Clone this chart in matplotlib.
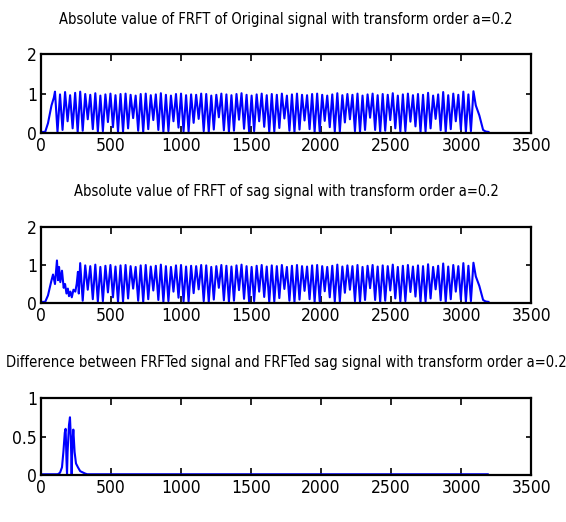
import matplotlib
matplotlib.use("Agg")
import matplotlib.pyplot as plt
import numpy as np

plt.rcParams['font.family'] = ['DejaVu Sans']
plt.rcParams['font.stretch'] = 'condensed'
plt.rcParams['path.simplify'] = False

# turning points of the dense oscillation (shared by both signals)
period = 36
first_peak = 100
peaks = [1.05, 0.98, 1.04, 0.96, 1.02, 1.05, 0.99, 0.97, 1.01, 0.95,
         0.98, 1.0, 0.96, 0.99, 1.0, 0.97, 0.95, 0.99, 1.0, 0.96,
         0.98, 1.01, 0.97, 0.95, 0.99, 1.0, 0.96, 0.98, 0.97, 1.0,
         0.99, 0.95, 0.97, 1.0, 0.98, 0.96, 0.99, 1.01, 0.97, 0.95,
         0.98, 1.0, 0.96, 0.99, 0.97, 1.0, 0.95, 0.98, 1.0, 0.97,
         0.96, 0.99, 1.0, 0.97, 0.95, 0.98, 1.01, 0.96, 0.99, 0.97,
         1.0, 0.95, 0.98, 1.0, 0.96, 0.99, 0.97, 1.01, 0.95, 0.98,
         1.0, 0.96, 0.99, 0.97, 1.02, 0.95, 0.98, 1.04, 0.96, 1.0,
         0.97, 1.05, 0.98, 1.06]
troughs = [0.03, 0.08, 0.3, 0.12, 0.03, 0.06, 0.35, 0.1, 0.04, 0.05,
           0.28, 0.15, 0.03, 0.04, 0.12, 0.38, 0.06, 0.03, 0.1, 0.33,
           0.08, 0.03, 0.05, 0.3, 0.14, 0.04, 0.04, 0.26, 0.36, 0.05,
           0.03, 0.09, 0.4, 0.07, 0.03, 0.06, 0.34, 0.11, 0.04, 0.05,
           0.3, 0.16, 0.03, 0.04, 0.13, 0.37, 0.06, 0.03, 0.09, 0.32,
           0.1, 0.03, 0.05, 0.31, 0.15, 0.04, 0.04, 0.27, 0.35, 0.05,
           0.03, 0.08, 0.39, 0.08, 0.03, 0.06, 0.33, 0.12, 0.04, 0.05,
           0.29, 0.17, 0.03, 0.04, 0.12, 0.36, 0.07, 0.03, 0.1, 0.3,
           0.09, 0.03, 0.05]

orig_head_x = [0, 30, 50, 75, 92]
orig_head_y = [0.03, 0.03, 0.25, 0.7, 0.9]
tail_x = [3105, 3130, 3157, 3175, 3195]
tail_y = [0.7, 0.45, 0.08, 0.04, 0.03]

# sag signal differs at the start, then joins the original at peak 5
sag_head_x = [0, 30, 50, 72, 86, 100, 114, 122, 129, 138, 150, 162, 172,
              182, 192, 200, 210, 220, 232, 245, 255, 264, 270]
sag_head_y = [0.03, 0.03, 0.2, 0.55, 0.75, 0.5, 1.12, 0.6, 0.95, 0.55,
              0.85, 0.4, 0.5, 0.25, 0.38, 0.18, 0.3, 0.15, 0.35, 0.3,
              0.5, 0.82, 0.25]
sag_join = 5

diff_x = [0, 120, 136, 150, 160, 170, 176, 182, 186, 190, 200, 207, 213,
          219, 224, 231, 240, 250, 264, 280, 314, 330, 3190]
diff_y = [0.01, 0.01, 0.03, 0.1, 0.3, 0.55, 0.6, 0.2, 0.01, 0.3, 0.65,
          0.75, 0.5, 0.01, 0.4, 0.59, 0.3, 0.15, 0.1, 0.05, 0.02, 0.01, 0.01]

titles = ['Absolute value of FRFT of Original signal with transform order a=0.2',
          'Absolute value of FRFT of sag signal with transform order a=0.2',
          'Difference between FRFTed signal and FRFTed sag signal with transform order a=0.2']


def zigzag(start):
    xs, ys = [], []
    for k in range(start, len(peaks)):
        xs.append(first_peak + period * k)
        ys.append(peaks[k])
        if k < len(troughs):
            xs.append(first_peak + period * k + period / 2)
            ys.append(troughs[k])
    return xs, ys


zx, zy = zigzag(0)
orig_x = orig_head_x + zx + tail_x
orig_y = orig_head_y + zy + tail_y
sx, sy = zigzag(sag_join)
sag_x = sag_head_x + sx + tail_x
sag_y = sag_head_y + sy + tail_y

fig = plt.figure(figsize=(5.66, 5.22), dpi=100)
boxes = [[0.0724, 0.745, 0.866, 0.1513],
         [0.0724, 0.4195, 0.866, 0.1456],
         [0.0724, 0.090, 0.866, 0.1475]]
series = [(orig_x, orig_y), (sag_x, sag_y), (diff_x, diff_y)]

for i in range(3):
    ax = fig.add_axes(boxes[i])
    x, y = series[i]
    ax.plot(x, y, color='#0000ff', linewidth=1.5)
    ax.set_xlim(0, 3500)
    if i < 2:
        ax.set_ylim(0, 2)
        ax.set_yticks([0, 1, 2])
        ax.set_yticklabels(['0', '1', '2'])
    else:
        ax.set_ylim(0, 1)
        ax.set_yticks([0, 0.5, 1])
        ax.set_yticklabels(['0', '0.5', '1'])
    ax.set_xticks(np.arange(0, 3501, 500))
    ax.tick_params(direction='in', top=True, right=True, labelsize=12.5,
                   width=1.2, pad=3)
    ax.tick_params(axis='x', length=5)
    ax.tick_params(axis='y', length=3.5)
    for s in ax.spines.values():
        s.set_linewidth(1.6)
    ax.set_title(titles[i], fontsize=10.5, pad=22)

fig.savefig('out.png', dpi=100)
